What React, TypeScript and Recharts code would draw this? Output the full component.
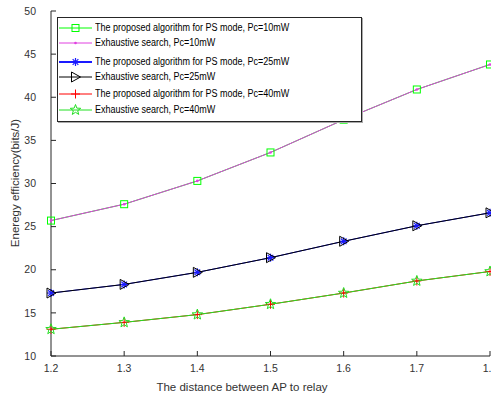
import React from 'react';
import { LineChart, Line, XAxis, YAxis } from 'recharts';

// distance between AP and relay
const distance = [1.2, 1.3, 1.4, 1.5, 1.6, 1.7, 1.8];

// energy efficiency (bits/J)
const proposedPc10 = [25.7, 27.6, 30.3, 33.6, 37.4, 40.9, 43.8];
const exhaustivePc10 = [25.7, 27.6, 30.3, 33.6, 37.4, 40.9, 43.8];
const proposedPc25 = [17.3, 18.3, 19.7, 21.4, 23.3, 25.1, 26.6];
const exhaustivePc25 = [17.3, 18.3, 19.7, 21.4, 23.3, 25.1, 26.6];
const proposedPc40 = [13.1, 13.9, 14.8, 16.0, 17.3, 18.7, 19.8];
const exhaustivePc40 = [13.1, 13.9, 14.8, 16.0, 17.3, 18.7, 19.8];

const xTicks = [1.2, 1.3, 1.4, 1.5, 1.6, 1.7, 1.8];
const yTicks = [10, 15, 20, 25, 30, 35, 40, 45, 50];

const data = distance.map((x, i) => ({
  x,
  p10: proposedPc10[i],
  e10: exhaustivePc10[i],
  p25: proposedPc25[i],
  e25: exhaustivePc25[i],
  p40: proposedPc40[i],
  e40: exhaustivePc40[i],
}));

const FONT = '"Liberation Sans", Arial, sans-serif';
const AXIS = '#262626';

type MarkerProps = { cx: number; cy: number; color: string };

const Square = ({ cx, cy, color }: MarkerProps) => (
  <rect x={cx - 3.5} y={cy - 3.5} width={7} height={7} fill="none" stroke={color} strokeWidth={1} />
);

const Point = ({ cx, cy, color }: MarkerProps) => <circle cx={cx} cy={cy} r={1.3} fill={color} />;

const Asterisk = ({ cx, cy, color }: MarkerProps) => {
  const r = 4;
  const d = r * 0.7071;
  return (
    <g stroke={color} strokeWidth={1.2}>
      <line x1={cx - r} y1={cy} x2={cx + r} y2={cy} />
      <line x1={cx} y1={cy - r} x2={cx} y2={cy + r} />
      <line x1={cx - d} y1={cy - d} x2={cx + d} y2={cy + d} />
      <line x1={cx - d} y1={cy + d} x2={cx + d} y2={cy - d} />
    </g>
  );
};

const TriangleRight = ({ cx, cy, color }: MarkerProps) => (
  <polygon
    points={`${cx - 4},${cy - 5} ${cx + 5},${cy} ${cx - 4},${cy + 5}`}
    fill="none"
    stroke={color}
    strokeWidth={1}
  />
);

const Plus = ({ cx, cy, color }: MarkerProps) => (
  <g stroke={color} strokeWidth={1}>
    <line x1={cx - 4.5} y1={cy} x2={cx + 4.5} y2={cy} />
    <line x1={cx} y1={cy - 4.5} x2={cx} y2={cy + 4.5} />
  </g>
);

const Pentagram = ({ cx, cy, color }: MarkerProps) => {
  const pts: string[] = [];
  for (let k = 0; k < 10; k++) {
    const r = k % 2 === 0 ? 5.5 : 2.3;
    const a = -Math.PI / 2 + (k * Math.PI) / 5;
    pts.push(`${cx + r * Math.cos(a)},${cy + r * Math.sin(a)}`);
  }
  return <polygon points={pts.join(' ')} fill="none" stroke={color} strokeWidth={1} />;
};

const series = [
  { key: 'p10', color: '#00ff00', Marker: Square, name: 'The proposed algorithm for PS mode, Pc=10mW' },
  { key: 'e10', color: '#e040e0', Marker: Point, name: 'Exhaustive search, Pc=10mW' },
  { key: 'p25', color: '#1a1aff', Marker: Asterisk, name: 'The proposed algorithm for PS mode, Pc=25mW' },
  { key: 'e25', color: '#000000', Marker: TriangleRight, name: 'Exhaustive search, Pc=25mW' },
  { key: 'p40', color: '#ff0000', Marker: Plus, name: 'The proposed algorithm for PS mode, Pc=40mW' },
  { key: 'e40', color: '#22e022', Marker: Pentagram, name: 'Exhaustive search, Pc=40mW' },
];

// row offsets inside the legend box: pairs grouped together
const legendRows = [10, 25, 44, 59, 76, 92];

const LegendBox = () => (
  <div
    style={{
      position: 'absolute',
      left: 57,
      top: 17,
      width: 303,
      height: 103,
      border: `1px solid ${AXIS}`,
      boxShadow: '1px 1px 0 #aaa',
      background: '#fff',
      fontFamily: FONT,
      fontSize: 10,
      color: '#000',
    }}
  >
    <svg width={36} height={103} style={{ position: 'absolute', left: 0, top: 0 }}>
      {series.map((s, i) => (
        <g key={s.key}>
          <line x1={1} y1={legendRows[i]} x2={34} y2={legendRows[i]} stroke={s.color} strokeWidth={s.key === 'p25' ? 2 : 1} />
          <s.Marker cx={17.5} cy={legendRows[i]} color={s.color} />
        </g>
      ))}
    </svg>
    {series.map((s, i) => (
      <div
        key={s.key}
        style={{
          position: 'absolute',
          left: 37,
          top: legendRows[i] - 7,
          lineHeight: '14px',
          whiteSpace: 'nowrap',
          transform: 'scaleX(0.9)',
          transformOrigin: 'left center',
        }}
      >
        {s.name}
      </div>
    ))}
  </div>
);

export default function App() {
  return (
    <div
      style={{
        position: 'fixed',
        left: 0,
        top: 0,
        width: 491,
        height: 399,
        overflow: 'hidden',
        background: '#fff',
      }}
    >
      <LineChart width={520} height={399} data={data} margin={{ top: 11, right: 30, left: 0, bottom: 0 }}>
        <XAxis
          dataKey="x"
          type="number"
          domain={[1.2, 1.8]}
          ticks={xTicks}
          tickFormatter={(v: number) => v.toFixed(1)}
          height={43}
          tickSize={-5}
          tickMargin={14}
          stroke={AXIS}
          tick={{ fontSize: 10.5, fill: '#333', fontFamily: FONT }}
          label={() => (
            <text x={242} y={391} textAnchor="middle" fontSize={11.5} fill="#333" fontFamily={FONT}>
              The distance between AP to relay
            </text>
          )}
        />
        <XAxis
          xAxisId="top"
          orientation="top"
          dataKey="x"
          type="number"
          domain={[1.2, 1.8]}
          ticks={xTicks}
          height={0}
          tickSize={-5}
          tickFormatter={() => ''}
          stroke={AXIS}
        />
        <YAxis
          type="number"
          domain={[10, 50]}
          ticks={yTicks}
          width={51}
          tickSize={-5}
          tickMargin={20}
          stroke={AXIS}
          tick={{ fontSize: 10.5, fill: '#333', fontFamily: FONT }}
          label={() => (
            <text
              x={16}
              y={183}
              transform="rotate(-90 16 183)"
              textAnchor="middle"
              dominantBaseline="middle"
              fontSize={11.5}
              fill="#333"
              fontFamily={FONT}
            >
              Eneregy efficiency(bits/J)
            </text>
          )}
        />
        <YAxis
          yAxisId="right"
          orientation="right"
          type="number"
          domain={[10, 50]}
          ticks={yTicks}
          width={0}
          tickSize={-5}
          tickFormatter={() => ''}
          stroke={AXIS}
        />
        {series.map((s) => (
          <Line
            key={s.key}
            dataKey={s.key}
            name={s.name}
            type="linear"
            stroke={s.color}
            strokeWidth={1}
            isAnimationActive={false}
            dot={(p: any) => <s.Marker key={`${s.key}-${p.index}`} cx={p.cx} cy={p.cy} color={s.color} />}
            activeDot={false}
          />
        ))}
      </LineChart>
      <LegendBox />
    </div>
  );
}
